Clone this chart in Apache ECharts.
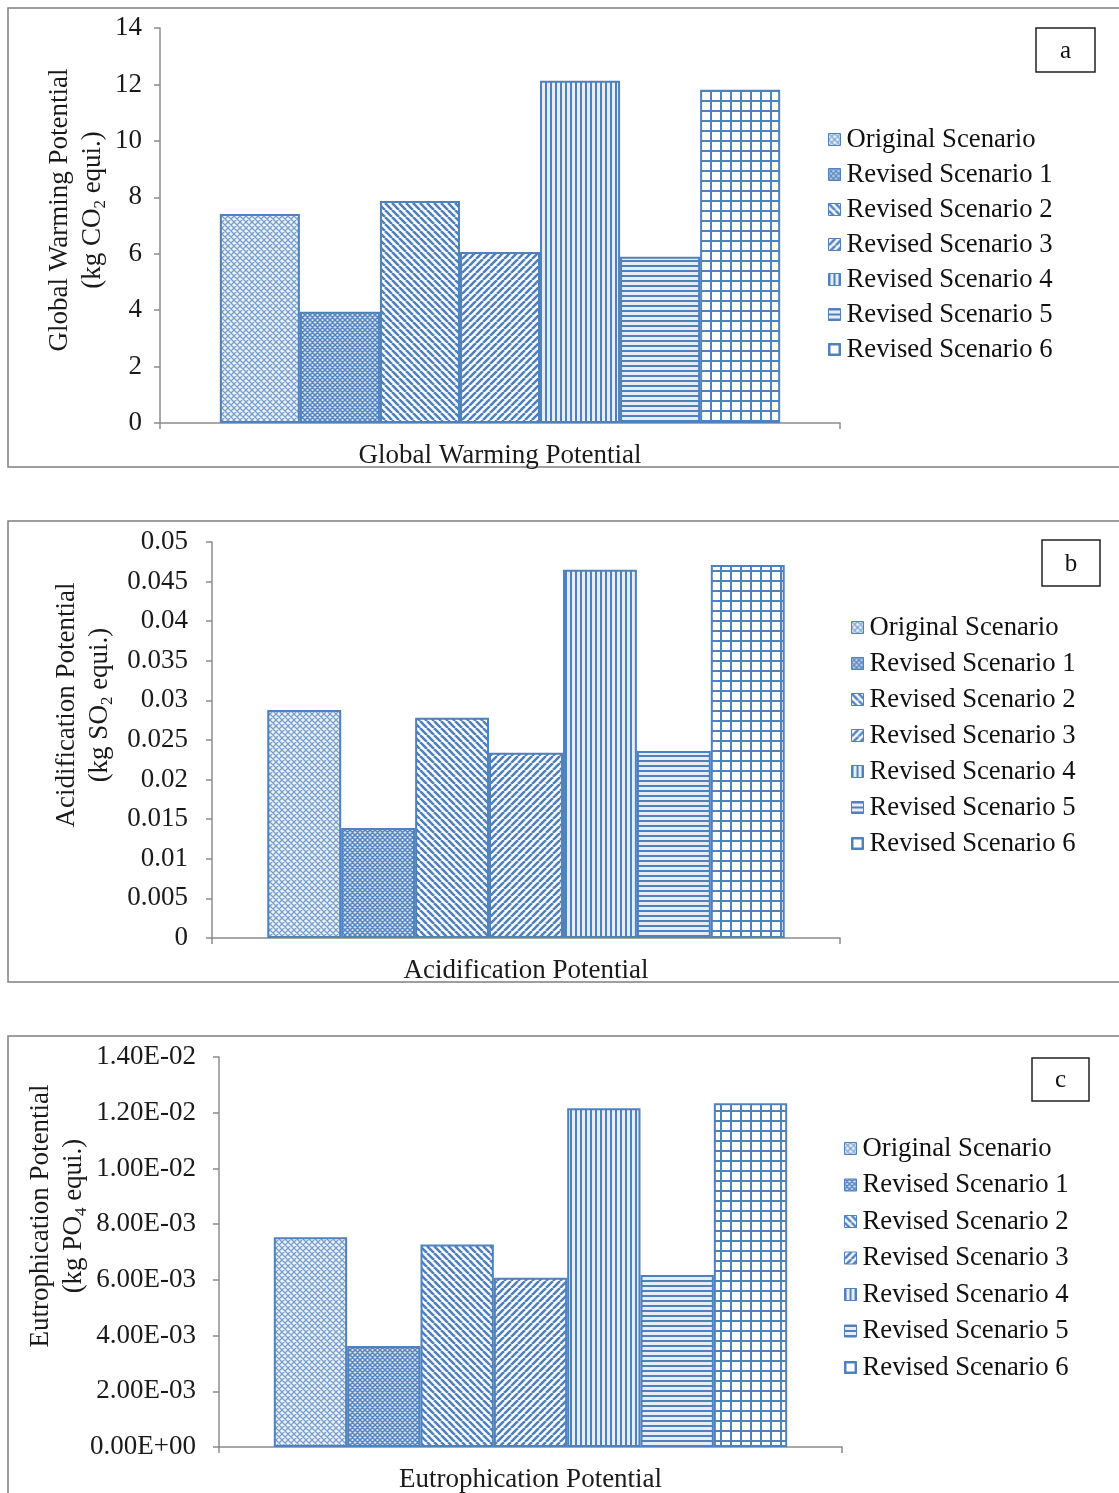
<!DOCTYPE html>
<html>
<head>
<meta charset="utf-8">
<script src="https://cdn.jsdelivr.net/npm/echarts@6/dist/echarts.min.js"></script>
<style>
  html, body { margin: 0; padding: 0; background: #ffffff; }
  #chart { width: 1119px; height: 1493px; }
</style>
</head>
<body>
<div id="chart"></div>
<script>
// Scenario names shared by all three impact panels
const scenarios = [
  'Original Scenario', 'Revised Scenario 1', 'Revised Scenario 2', 'Revised Scenario 3',
  'Revised Scenario 4', 'Revised Scenario 5', 'Revised Scenario 6'
];

// (a) Global warming potential, kg CO2 equi.
const gwpCategory = ['Global Warming Potential'];
const gwpValues = [7.41, 3.94, 7.87, 6.06, 12.13, 5.89, 11.81];

// (b) Acidification potential, kg SO2 equi.
const apCategory = ['Acidification Potential'];
const apValues = [0.0288, 0.0139, 0.0278, 0.0234, 0.0465, 0.0236, 0.0471];

// (c) Eutrophication potential, kg PO4 equi.
const epCategory = ['Eutrophication Potential'];
const epValues = [0.00753, 0.00363, 0.00727, 0.00608, 0.01216, 0.00617, 0.01234];

// Value-axis ranges and steps
const gwpAxis = { min: 0, max: 14, interval: 2 };
const apAxis = { min: 0, max: 0.05, interval: 0.005 };
const epAxis = { min: 0, max: 0.014, interval: 0.002 };

const BLUE = '#4f81bd';
const FONT = '"Liberation Serif", "Times New Roman", serif';
const AXIS_GRAY = '#8c8c8c';
const FS = 27;

// ---- hatch fills, one per scenario ----
function tile(w, h, bg, draw) {
  const c = document.createElement('canvas');
  c.width = w; c.height = h;
  const g = c.getContext('2d');
  g.fillStyle = bg; g.fillRect(0, 0, w, h);
  g.strokeStyle = BLUE; g.fillStyle = BLUE;
  draw(g, w, h);
  return c;
}
function lattice(size, width, alpha, bg) {
  return tile(size, size, bg, (g, w, h) => {
    g.globalAlpha = alpha; g.lineWidth = width;
    g.beginPath();
    for (let k = -1; k <= 1; k++) {
      g.moveTo(k * w, 0); g.lineTo(k * w + w, h);
      g.moveTo(k * w + w, 0); g.lineTo(k * w, h);
    }
    g.stroke();
  });
}
function diag(size, width, down) {
  return tile(size, size, '#ffffff', (g, w, h) => {
    g.lineWidth = width;
    g.beginPath();
    for (let k = -1; k <= 1; k++) {
      if (down) { g.moveTo(k * w, 0); g.lineTo(k * w + w, h); }
      else { g.moveTo(k * w + w, 0); g.lineTo(k * w, h); }
    }
    g.stroke();
  });
}
const patterns = [
  lattice(6, 1.3, 0.75, '#eef3fa'),
  lattice(5, 1.5, 0.95, '#d6e1f1'),
  diag(7, 2.6, true),
  diag(7, 2.6, false),
  tile(5, 5, '#e6edf7', g => g.fillRect(0, 0, 2, 5)),
  tile(5, 5, '#e6edf7', g => g.fillRect(0, 0, 5, 2)),
  tile(10, 10, '#ffffff', g => { g.fillRect(0, 0, 10, 2); g.fillRect(0, 0, 2, 10); })
];

function sci(v) {
  if (Math.abs(v) < 1e-12) return '0.00E+00';
  const e = Math.floor(Math.log10(Math.abs(v)) + 1e-9);
  const m = v / Math.pow(10, e);
  return m.toFixed(2) + 'E' + (e < 0 ? '-' : '+') + String(Math.abs(e)).padStart(2, '0');
}

// Panel geometry in page pixels
const panels = [
  { cat: gwpCategory, vals: gwpValues, axis: gwpAxis, grid: { left: 160, top: 28, width: 680, height: 395 },
    labelMargin: 18, fmt: null,
    legend: { left: 823, top: 121, gap: 8 },
    title: { x: 76, y: 210, l1: 'Global Warming Potential', chem: 'CO', sub: '2' },
    frame: { x: 8, y: 8, h: 459 }, tag: { x: 1036, y: 28, w: 59, h: 44, t: 'a' } },
  { cat: apCategory, vals: apValues, axis: apAxis, grid: { left: 212, top: 542, width: 628, height: 396 },
    labelMargin: 24, fmt: null,
    legend: { left: 846, top: 609, gap: 9 },
    title: { x: 83, y: 705, l1: 'Acidification Potential', chem: 'SO', sub: '2' },
    frame: { x: 8, y: 521, h: 461 }, tag: { x: 1042, y: 540, w: 58, h: 46, t: 'b' } },
  { cat: epCategory, vals: epValues, axis: epAxis, grid: { left: 219, top: 1057, width: 623, height: 391 },
    labelMargin: 23, fmt: sci,
    legend: { left: 839, top: 1130, gap: 9.5 },
    title: { x: 57, y: 1216, l1: 'Eutrophication Potential', chem: 'PO', sub: '4' },
    frame: { x: 8, y: 1036, h: 600 }, tag: { x: 1032, y: 1058, w: 57, h: 43, t: 'c' } }
];

const grids = [], xAxes = [], yAxes = [], legends = [], series = [], graphics = [];

panels.forEach((p, pi) => {
  grids.push(Object.assign({ containLabel: false }, p.grid));

  xAxes.push({
    type: 'category', gridIndex: pi, data: p.cat,
    axisLine: { lineStyle: { color: AXIS_GRAY, width: 1.5 } },
    axisTick: { show: true, length: 6, lineStyle: { color: AXIS_GRAY, width: 1.5 } },
    axisLabel: { color: '#1a1a1a', fontFamily: FONT, fontSize: FS, margin: 19 }
  });

  yAxes.push({
    type: 'value', gridIndex: pi, min: p.axis.min, max: p.axis.max, interval: p.axis.interval,
    splitLine: { show: false },
    axisLine: { show: true, lineStyle: { color: AXIS_GRAY, width: 1.5 } },
    axisTick: { show: true, length: 6, lineStyle: { color: AXIS_GRAY, width: 1.5 } },
    axisLabel: Object.assign({ color: '#1a1a1a', fontFamily: FONT, fontSize: FS, margin: p.labelMargin },
      p.fmt ? { formatter: p.fmt } : {})
  });

  legends.push({
    orient: 'vertical', left: p.legend.left, top: p.legend.top, itemGap: p.legend.gap,
    itemWidth: 12, itemHeight: 12, icon: 'rect', data: scenarios, selectedMode: false,
    itemStyle: { borderColor: BLUE, borderWidth: 1 },
    textStyle: { color: '#111', fontFamily: FONT, fontSize: 26.7, lineHeight: 27, padding: [0, 0, 0, 1] }
  });

  scenarios.forEach((name, i) => {
    series.push({
      type: 'bar', name: name, xAxisIndex: pi, yAxisIndex: pi,
      data: [p.vals[i]],
      barGap: '0%', barCategoryGap: '17.6%',
      itemStyle: { color: { image: patterns[i], repeat: 'repeat' }, borderColor: BLUE, borderWidth: 2 },
      emphasis: { disabled: true }, silent: true
    });
  });

  // panel frame (open on the right, running off the page edge)
  graphics.push({
    type: 'rect', z: 0, silent: true,
    shape: { x: p.frame.x, y: p.frame.y, width: 1200, height: p.frame.h },
    style: { fill: 'none', stroke: '#7f7f7f', lineWidth: 1.5 }
  });
  // panel letter box
  graphics.push({
    type: 'rect', z: 5, silent: true,
    shape: { x: p.tag.x, y: p.tag.y, width: p.tag.w, height: p.tag.h },
    style: { fill: '#ffffff', stroke: '#222', lineWidth: 1.5 }
  });
  graphics.push({
    type: 'text', z: 6, silent: true,
    x: p.tag.x + p.tag.w / 2, y: p.tag.y + p.tag.h / 2 + 1,
    style: { text: p.tag.t, fill: '#111', font: '25px ' + FONT, align: 'center', verticalAlign: 'middle' }
  });
  // rotated value-axis title with subscript
  graphics.push({
    type: 'text', z: 5, silent: true,
    x: p.title.x, y: p.title.y, rotation: Math.PI / 2,
    style: {
      text: '{m|' + p.title.l1 + '}\n{m|(kg ' + p.title.chem + '}{s|' + p.title.sub + '}{m| equi.)}',
      align: 'center', verticalAlign: 'middle', fill: '#1a1a1a',
      rich: {
        m: { fontFamily: FONT, fontSize: FS, lineHeight: 33, fill: '#1a1a1a', verticalAlign: 'middle' },
        s: { fontFamily: FONT, fontSize: 17, lineHeight: 16, fill: '#1a1a1a', verticalAlign: 'bottom' }
      }
    }
  });
});

const chart = echarts.init(document.getElementById('chart'), null, { renderer: 'canvas' });
chart.setOption({
  animation: false,
  backgroundColor: '#ffffff',
  grid: grids,
  xAxis: xAxes,
  yAxis: yAxes,
  legend: legends,
  series: series,
  graphic: graphics
});
</script>
</body>
</html>
